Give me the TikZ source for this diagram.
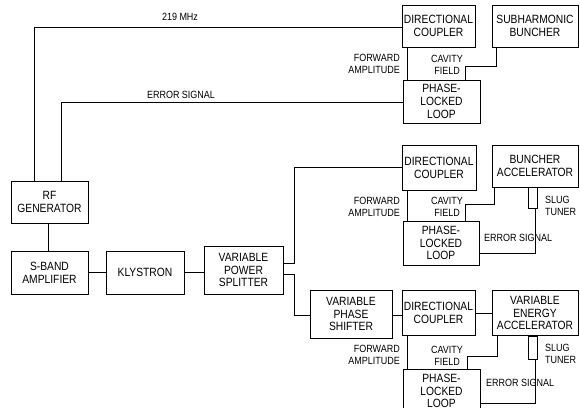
\documentclass[tikz,border=0pt]{standalone}
\usepackage{fontspec}
\setmainfont{Liberation Sans}[FakeStretch=0.86]
\begin{document}
\begin{tikzpicture}[x=1bp,y=-1bp,
  box/.style={draw, line width=0.9bp, inner sep=0pt, align=center,
    font=\fontsize{12}{12.8}\selectfont},
  lbl/.style={inner sep=0pt, align=center, font=\fontsize{10.5}{11.8}\selectfont},
  conn/.style={line width=0.9bp}]
\clip (0,0) rectangle (580,407);
\fill[white] (0,0) rectangle (580,407);
% boxes
\node[box, minimum width=73bp, minimum height=42bp] (dc1) at (438.5,26) {DIRECTIONAL\\COUPLER};
\node[box, minimum width=86bp, minimum height=42bp] (sub) at (535,26) {SUBHARMONIC\\BUNCHER};
\node[box, minimum width=77bp, minimum height=43bp] (pll1) at (441.5,101.5) {PHASE-\\LOCKED\\LOOP};
\node[box, minimum width=74bp, minimum height=45bp] (dc2) at (439,167.5) {DIRECTIONAL\\COUPLER};
\node[box, minimum width=86bp, minimum height=42bp] (bun) at (535,166) {BUNCHER\\ACCELERATOR};
\node[box, minimum width=76bp, minimum height=44bp] (pll2) at (441,243) {PHASE-\\LOCKED\\LOOP};
\node[box, minimum width=77bp, minimum height=42bp] (rf) at (49.5,202) {RF\\GENERATOR};
\node[box, minimum width=77bp, minimum height=43bp] (sb) at (49.5,272.5) {S-BAND\\AMPLIFIER};
\node[box, minimum width=78bp, minimum height=43bp] (kly) at (145,272.5) {KLYSTRON};
\node[box, minimum width=79bp, minimum height=48bp] (vps) at (243.5,270) {VARIABLE\\POWER\\SPLITTER};
\node[box, minimum width=82bp, minimum height=48bp] (vsh) at (351,314) {VARIABLE\\PHASE\\SHIFTER};
\node[box, minimum width=73bp, minimum height=45bp] (dc3) at (438.5,313) {DIRECTIONAL\\COUPLER};
\node[box, minimum width=86bp, minimum height=45bp] (vea) at (535,313) {VARIABLE\\ENERGY\\ACCELERATOR};
\node[box, minimum width=77bp, minimum height=44bp] (pll3) at (441.5,391) {PHASE-\\LOCKED\\LOOP};
% slug tuners
\node[draw, line width=0.9bp, inner sep=0pt, minimum width=9bp, minimum height=21bp, anchor=north] (sl2) at ([xshift=41.5bp]bun.south west) {};
\node[draw, line width=0.9bp, inner sep=0pt, minimum width=9bp, minimum height=23bp, anchor=north] (sl3) at ([xshift=41.5bp]vea.south west) {};
% coordinates
\coordinate (a1) at (34,27);
\coordinate (e1) at (61,102);
\coordinate (b1) at (294,263);
\coordinate (b2) at (294,274);
% connectors
\draw[conn] (rf.north -| a1) -- (a1) -- (a1 -| dc1.west);
\draw[conn] (rf.north -| e1) -- (e1) -- (e1 -| pll1.west);
\draw[conn] (rf.south -| 48,0) -- (sb.north -| 48,0);
\draw[conn] (sb.east) -- (kly.west);
\draw[conn] (kly.east) -- (kly.east -| vps.west);
\draw[conn] (vps.east |- b1) -- (b1) |- (dc2.west);
\draw[conn] (vps.east |- b2) -- (b2) |- ([yshift=-1bp]vsh.west);
\draw[conn] ([yshift=-1bp]vsh.east) -- ([yshift=-1bp]vsh.east -| dc3.west);
\draw[conn] (dc3.east) -- (vea.west);
% group 1
\draw[conn] ([xshift=6bp]dc1.south west) -- ([xshift=6bp]dc1.south west |- pll1.north);
\draw[conn] ([xshift=5bp]sub.south west) -- ++(0,19) -| ([xshift=63bp]pll1.north west);
% group 2
\draw[conn] ([xshift=6bp]dc2.south west) -- ([xshift=6bp]dc2.south west |- pll2.north);
\draw[conn] ([xshift=3bp]bun.south west) -- ++(0,17) -| ([xshift=63bp]pll2.north west);
\draw[conn] ([xshift=2.5bp]sl2.south) |- ([yshift=-10bp]pll2.east);
% group 3
\draw[conn] ([xshift=6bp]dc3.south west) -- ([xshift=6bp]dc3.south west |- pll3.north);
\draw[conn] ([xshift=6bp]vea.south west) -- ++(0,20) -| ([xshift=65bp]pll3.north west);
\draw[conn] ([xshift=2.5bp]sl3.south) |- ([yshift=-12bp]pll3.east);
% labels
\node[lbl] (t219) at (180,17) {219 MHz};
\node[lbl] (terr) at (181,95) {ERROR SIGNAL};
\node[lbl, align=right, anchor=east] (fa1) at (400,64) {FORWARD\\AMPLITUDE};
\node[lbl] (cf1) at (447,65) {CAVITY\\FIELD};
\node[lbl, align=right, anchor=east] (fa2) at (400,207) {FORWARD\\AMPLITUDE};
\node[lbl] (cf2) at (447,207) {CAVITY\\FIELD};
\node[lbl, align=left, anchor=west] (st2) at (545,206) {SLUG\\TUNER};
\node[lbl, anchor=west] (es2) at (484,238) {ERROR SIGNAL};
\node[lbl, align=right, anchor=east] (fa3) at (400,355) {FORWARD\\AMPLITUDE};
\node[lbl] (cf3) at (447,356) {CAVITY\\FIELD};
\node[lbl, align=left, anchor=west] (st3) at (545,354) {SLUG\\TUNER};
\node[lbl, anchor=west] (es3) at (486,383) {ERROR SIGNAL};
\end{tikzpicture}
\end{document}
